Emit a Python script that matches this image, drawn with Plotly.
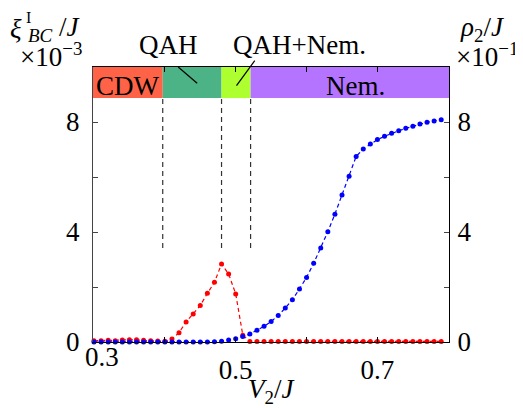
import plotly.graph_objects as go

# ---------------- data ----------------
v2 = [0.30, 0.31, 0.32, 0.33, 0.34, 0.35, 0.36, 0.37, 0.38, 0.39,
      0.40, 0.41, 0.42, 0.43, 0.44, 0.45, 0.46, 0.47, 0.48, 0.49,
      0.50, 0.51, 0.52, 0.53, 0.54, 0.55, 0.56, 0.57, 0.58, 0.59,
      0.60, 0.61, 0.62, 0.63, 0.64, 0.65, 0.66, 0.67, 0.68, 0.69,
      0.70, 0.71, 0.72, 0.73, 0.74, 0.75, 0.76, 0.77, 0.78, 0.79]

xi_bc = [0.05, 0.05, 0.06, 0.05, 0.07, 0.08, 0.08, 0.06, 0.05, 0.04,
         0.03, 0.11, 0.34, 0.73, 1.02, 1.33, 1.77, 2.17, 2.84, 2.47,
         1.75, 0.25, 0.02, 0.02, 0.02, 0.02, 0.02, 0.02, 0.02, 0.02,
         0.02, 0.02, 0.02, 0.02, 0.02, 0.02, 0.02, 0.02, 0.02, 0.02,
         0.02, 0.02, 0.02, 0.02, 0.02, 0.02, 0.02, 0.02, 0.02, 0.02]

rho2 = [0.00, 0.00, 0.00, 0.00, 0.00, 0.00, 0.00, 0.00, 0.00, 0.00,
        0.00, 0.00, 0.00, 0.00, 0.00, 0.00, 0.00, 0.01, 0.03, 0.07,
        0.12, 0.20, 0.29, 0.43, 0.57, 0.75, 0.96, 1.24, 1.54, 1.93,
        2.35, 2.86, 3.42, 4.01, 4.65, 5.35, 6.03, 6.75, 7.02, 7.20,
        7.36, 7.48, 7.59, 7.68, 7.77, 7.85, 7.93, 7.99, 8.04, 8.08]

phase_names = ["CDW", "QAH", "QAH+Nem.", "Nem."]
phase_bounds = [0.2986, 0.397, 0.480, 0.521, 0.801]
phase_colors = ["#FF6347", "#4BB386", "#ADFF2F", "#B474FF"]

x_range = [0.2986, 0.801]
y_range = [0, 10]
bar_bottom = 8.87
dash_bottom = 3.42

FONT = "Liberation Serif"
FS = 27

# the page body adds an 8px margin; compensate so the picture lands at 0,0
OFF = 8
W, H = 523 - OFF, 408 - OFF
# plot-area pixel geometry (in target-picture pixels)
L, R, T, B = 93, 449.5, 67, 342

fig = go.Figure()

fig.add_trace(go.Scatter(
    x=v2, y=rho2, yaxis="y2", mode="lines+markers",
    line=dict(color="#0000FF", width=1.2, dash="4px,3px"),
    marker=dict(color="#0000FF", size=5),
    cliponaxis=False, showlegend=False))

fig.add_trace(go.Scatter(
    x=v2, y=xi_bc, mode="lines+markers",
    line=dict(color="#FF0000", width=1.2, dash="4px,3px"),
    marker=dict(color="#FF0000", size=5),
    cliponaxis=False, showlegend=False))

shapes = []
for i, c in enumerate(phase_colors):
    shapes.append(dict(type="rect", xref="x", yref="y",
                       x0=phase_bounds[i], x1=phase_bounds[i + 1],
                       y0=bar_bottom, y1=y_range[1],
                       fillcolor=c, line=dict(width=0), layer="below"))
for xb in phase_bounds[1:4]:
    shapes.append(dict(type="line", xref="x", yref="y",
                       x0=xb, x1=xb, y0=dash_bottom, y1=bar_bottom,
                       line=dict(color="#333333", width=1.2, dash="5px,4px")))


def px2paper(px, py):
    return (px - L) / (R - L), (B - py) / (B - T)


# pointer lines for labels above the bar
for (ax0, ay0, ax1, ay1) in [(178.3, 67.0, 197.3, 83.3), (255.0, 60.7, 236.7, 85.7)]:
    x0, y0 = px2paper(ax0, ay0)
    x1, y1 = px2paper(ax1, ay1)
    shapes.append(dict(type="line", xref="paper", yref="paper",
                       x0=x0, y0=y0, x1=x1, y1=y1,
                       line=dict(color="black", width=1.2)))

annotations = []


def ann(text, px, py, size=FS, xanchor="center"):
    annotations.append(dict(
        text=text, x=0, y=1, xref="paper", yref="paper",
        xshift=px - L, yshift=T - py, xanchor=xanchor, yanchor="middle",
        showarrow=False, font=dict(family=FONT, size=size, color="black")))


# left axis title pieces
ann("<i>ξ</i>", 16, 29)
ann("I", 28, 17, size=16)
ann("<i>BC</i>", 40, 35, size=19)
ann("/<i>J</i>", 70, 27)
ann("×10<sup>−3</sup>", 51, 55)
# right axis title
ann("<i>ρ</i><sub>2</sub>/<i>J</i>", 482, 29)
ann("×10<sup>−1</sup>", 487, 55)
# phase labels
ann("QAH", 168.5, 45)
ann("QAH+Nem.", 299, 45)
ann("CDW", 127.5, 86)
ann("Nem.", 355, 86)
# x tick label 0.3 and x title
ann("0.3", 102, 357)
ann("<i>V</i><sub>2</sub>/<i>J</i>", 271, 391)

fig.update_layout(
    width=W, height=H,
    margin=dict(l=L - OFF, r=523 - R, t=T - OFF, b=408 - B, pad=0),
    paper_bgcolor="white", plot_bgcolor="white",
    font=dict(family=FONT, size=FS, color="black"),
    shapes=shapes, annotations=annotations,
    xaxis=dict(range=x_range, showgrid=False, zeroline=False,
               showline=True, linecolor="black", linewidth=1.2, mirror="ticks",
               ticks="inside", ticklen=5, tickcolor="black",
               tickvals=[0.3, 0.4, 0.5, 0.6, 0.7, 0.8],
               ticktext=["", "", "0.5", "", "0.7", ""],
               ticklabelstandoff=3,
               tickfont=dict(family=FONT, size=FS, color="black")),
    yaxis=dict(range=y_range, showgrid=False, zeroline=False,
               showline=True, linecolor="#444444", linewidth=1.2,
               ticks="inside", ticklen=5, tickcolor="#444444",
               tickvals=[0, 2, 4, 6, 8], ticktext=["0", "", "4", "", "8"],
               ticklabelstandoff=7,
               tickfont=dict(family=FONT, size=FS, color="black")),
    yaxis2=dict(range=y_range, overlaying="y", side="right",
                showgrid=False, zeroline=False,
                showline=True, linecolor="black", linewidth=1.2,
                ticks="inside", ticklen=5, tickcolor="#444444",
                tickvals=[0, 2, 4, 6, 8], ticktext=["0", "", "4", "", "8"],
                ticklabelstandoff=2,
                tickfont=dict(family=FONT, size=FS, color="black")),
)

fig.write_html("out.html")
